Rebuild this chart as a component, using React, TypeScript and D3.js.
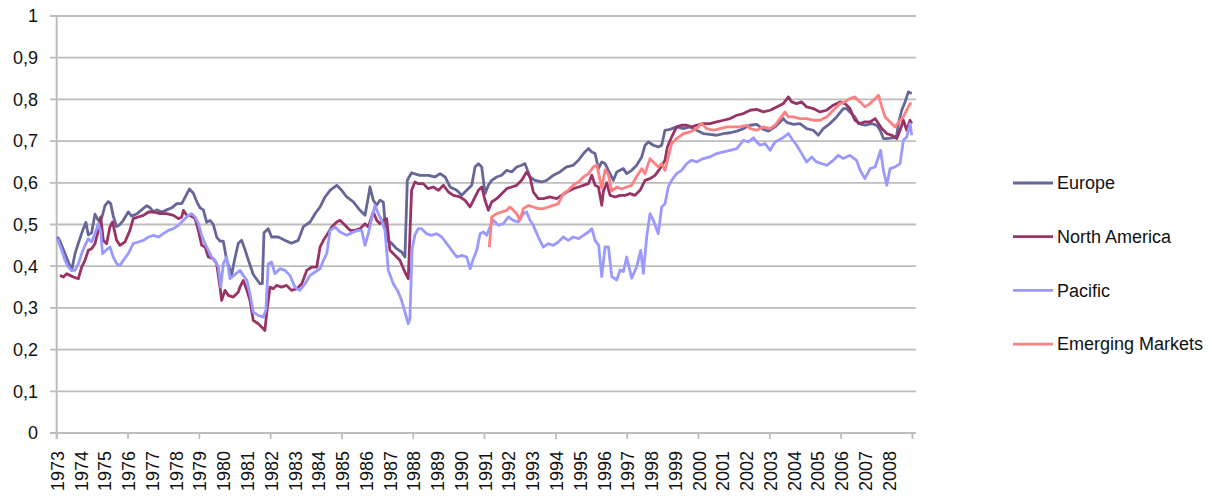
import React from 'react'
import * as d3 from 'd3'

// correlation values, [year, value]
const europe: [number, number][] = [
  [1973.03, .47], [1973.14, .46], [1973.35, .43], [1973.49, .41], [1973.63, .39], [1973.77, .43], [1973.91, .455],
  [1974.12, .49], [1974.23, .505], [1974.33, .475], [1974.47, .48], [1974.61, .525], [1974.75, .51], [1974.89, .515],
  [1975.03, .545], [1975.17, .555], [1975.27, .55], [1975.38, .52], [1975.52, .495], [1975.66, .5], [1975.8, .51],
  [1976.01, .53], [1976.15, .52], [1976.36, .525], [1976.57, .535], [1976.78, .545], [1976.93, .54], [1977.07, .53],
  [1977.21, .535], [1977.42, .53], [1977.63, .535], [1977.84, .54], [1978.05, .55], [1978.26, .55], [1978.4, .565],
  [1978.58, .585], [1978.75, .575], [1978.89, .555], [1979.03, .54], [1979.17, .535], [1979.31, .505], [1979.45, .51],
  [1979.59, .5], [1979.73, .47], [1979.87, .46], [1980.01, .46], [1980.15, .415], [1980.36, .38], [1980.5, .42],
  [1980.64, .455], [1980.78, .462], [1980.92, .44], [1981.06, .415], [1981.27, .38], [1981.55, .358], [1981.65, .358],
  [1981.72, .48], [1981.9, .49], [1982.04, .47], [1982.32, .47], [1982.6, .462], [1982.88, .455], [1983.16, .462],
  [1983.38, .495], [1983.66, .506], [1983.87, .526], [1984.08, .542], [1984.29, .566], [1984.5, .582], [1984.78, .594],
  [1984.99, .582], [1985.2, .566], [1985.48, .554], [1985.76, .534], [1985.97, .522], [1986.11, .566], [1986.18, .59],
  [1986.32, .558], [1986.46, .546], [1986.6, .558], [1986.74, .554], [1986.88, .462], [1987.09, .455], [1987.3, .442],
  [1987.51, .434], [1987.65, .422], [1987.75, .606], [1987.93, .624], [1988.28, .618], [1988.63, .618], [1988.91, .614],
  [1989.13, .622], [1989.34, .614], [1989.55, .59], [1989.83, .582], [1990.04, .57], [1990.25, .582], [1990.46, .594],
  [1990.6, .638], [1990.74, .646], [1990.88, .638], [1991.02, .574], [1991.16, .594], [1991.3, .606], [1991.51, .614],
  [1991.72, .618], [1991.93, .63], [1992.14, .626], [1992.35, .638], [1992.56, .642], [1992.7, .646], [1992.91, .614],
  [1993.12, .606], [1993.4, .602], [1993.61, .606], [1993.89, .618], [1994.17, .626], [1994.45, .638], [1994.73, .642],
  [1994.95, .654], [1995.16, .67], [1995.37, .682], [1995.51, .674], [1995.65, .67], [1995.79, .634], [1995.93, .65],
  [1996.07, .646], [1996.21, .63], [1996.42, .606], [1996.56, .626], [1996.84, .634], [1996.98, .622], [1997.19, .63],
  [1997.4, .642], [1997.61, .662], [1997.75, .69], [1997.89, .698], [1998.1, .69], [1998.31, .686], [1998.45, .69],
  [1998.59, .726], [1998.8, .728], [1999.08, .734], [1999.36, .73], [1999.64, .734], [1999.92, .726], [2000.2, .718],
  [2000.48, .716], [2000.76, .714], [2001.05, .718], [2001.33, .72], [2001.61, .724], [2001.9, .73], [2002.17, .738],
  [2002.45, .74], [2002.73, .728], [2002.94, .724], [2003.22, .734], [2003.43, .746], [2003.57, .754], [2003.71, .745],
  [2003.99, .74], [2004.27, .742], [2004.55, .73], [2004.83, .726], [2005.04, .714], [2005.25, .73], [2005.53, .742],
  [2005.81, .758], [2006.09, .778], [2006.23, .778], [2006.37, .77], [2006.58, .758], [2006.73, .742], [2007.01, .738],
  [2007.29, .742], [2007.5, .738], [2007.64, .726], [2007.78, .706], [2007.92, .706], [2008.2, .708], [2008.34, .714],
  [2008.41, .742], [2008.55, .774], [2008.69, .794], [2008.83, .818], [2008.97, .814],
]

const northAmerica: [number, number][] = [
  [1973.14, .378], [1973.28, .374], [1973.42, .382], [1973.56, .378], [1973.7, .374], [1973.91, .37], [1974.05, .398],
  [1974.19, .414], [1974.33, .438], [1974.47, .442], [1974.61, .454], [1974.75, .486], [1974.85, .518], [1974.96, .462],
  [1975.1, .454], [1975.24, .494], [1975.35, .506], [1975.52, .462], [1975.66, .45], [1975.87, .458], [1976.08, .486],
  [1976.22, .514], [1976.43, .518], [1976.65, .522], [1976.86, .53], [1977.07, .53], [1977.35, .526], [1977.63, .526],
  [1977.91, .522], [1978.12, .514], [1978.26, .518], [1978.33, .534], [1978.47, .522], [1978.61, .522], [1978.82, .514],
  [1978.96, .486], [1979.1, .45], [1979.24, .446], [1979.38, .422], [1979.59, .418], [1979.73, .406], [1979.87, .35],
  [1979.94, .318], [1980.08, .342], [1980.22, .33], [1980.43, .326], [1980.64, .338], [1980.71, .35], [1980.85, .366],
  [1981.0, .342], [1981.13, .318], [1981.27, .27], [1981.48, .262], [1981.62, .254], [1981.76, .246], [1981.83, .286],
  [1981.97, .35], [1982.11, .346], [1982.25, .354], [1982.46, .35], [1982.67, .354], [1982.88, .342], [1983.1, .346],
  [1983.31, .358], [1983.52, .39], [1983.73, .398], [1983.94, .398], [1984.08, .446], [1984.22, .462], [1984.36, .474],
  [1984.57, .494], [1984.78, .506], [1984.92, .51], [1985.13, .498], [1985.34, .486], [1985.55, .486], [1985.76, .49],
  [1985.97, .502], [1986.11, .494], [1986.32, .53], [1986.46, .51], [1986.6, .502], [1986.74, .51], [1986.88, .514],
  [1987.02, .438], [1987.23, .426], [1987.44, .414], [1987.65, .386], [1987.79, .37], [1987.93, .582], [1988.07, .602],
  [1988.21, .598], [1988.42, .598], [1988.63, .586], [1988.84, .59], [1989.06, .582], [1989.27, .594], [1989.48, .578],
  [1989.69, .57], [1989.97, .566], [1990.18, .558], [1990.39, .542], [1990.53, .558], [1990.74, .582], [1990.88, .59],
  [1991.02, .558], [1991.16, .534], [1991.3, .554], [1991.51, .562], [1991.72, .574], [1991.93, .586], [1992.14, .59],
  [1992.35, .594], [1992.56, .606], [1992.77, .626], [1992.91, .614], [1993.05, .578], [1993.26, .562], [1993.47, .562],
  [1993.75, .566], [1994.03, .562], [1994.24, .57], [1994.45, .578], [1994.73, .586], [1994.95, .59], [1995.16, .594],
  [1995.37, .598], [1995.51, .618], [1995.65, .594], [1995.79, .59], [1995.93, .546], [1996.0, .58], [1996.14, .6],
  [1996.28, .57], [1996.49, .566], [1996.7, .57], [1996.91, .57], [1997.12, .574], [1997.33, .57], [1997.54, .582],
  [1997.75, .606], [1997.96, .61], [1998.17, .618], [1998.38, .634], [1998.59, .654], [1998.69, .686], [1998.87, .71],
  [1999.08, .734], [1999.29, .738], [1999.5, .738], [1999.71, .734], [1999.92, .738], [2000.2, .742], [2000.48, .742],
  [2000.76, .746], [2001.05, .75], [2001.33, .754], [2001.61, .762], [2001.89, .766], [2002.17, .774], [2002.45, .776],
  [2002.73, .77], [2003.01, .774], [2003.29, .782], [2003.57, .79], [2003.78, .806], [2003.92, .794], [2004.13, .79],
  [2004.34, .794], [2004.55, .782], [2004.83, .778], [2005.11, .77], [2005.39, .774], [2005.67, .786], [2005.95, .794],
  [2006.16, .79], [2006.37, .778], [2006.58, .75], [2006.8, .742], [2007.0, .746], [2007.22, .746], [2007.43, .754],
  [2007.57, .742], [2007.71, .73], [2007.92, .718], [2008.13, .714], [2008.34, .706], [2008.48, .726], [2008.62, .75],
  [2008.76, .726], [2008.9, .75], [2008.97, .742],
]

const pacific: [number, number][] = [
  [1973.03, .466], [1973.21, .438], [1973.35, .414], [1973.49, .398], [1973.63, .39], [1973.77, .39], [1973.91, .406],
  [1974.05, .43], [1974.19, .45], [1974.33, .466], [1974.47, .458], [1974.61, .478], [1974.75, .502], [1974.85, .482],
  [1974.93, .43], [1975.07, .438], [1975.24, .446], [1975.38, .422], [1975.52, .406], [1975.66, .402], [1975.8, .414],
  [1976.01, .43], [1976.22, .454], [1976.43, .458], [1976.65, .462], [1976.86, .47], [1977.07, .474], [1977.28, .47],
  [1977.49, .478], [1977.7, .486], [1977.91, .49], [1978.12, .498], [1978.33, .51], [1978.54, .522], [1978.68, .526],
  [1978.82, .518], [1978.96, .502], [1979.1, .474], [1979.24, .454], [1979.38, .438], [1979.52, .422], [1979.66, .414],
  [1979.8, .398], [1979.9, .35], [1980.01, .406], [1980.15, .422], [1980.29, .37], [1980.5, .38], [1980.71, .39],
  [1980.85, .378], [1981.0, .366], [1981.13, .334], [1981.27, .29], [1981.48, .282], [1981.69, .278], [1981.8, .294],
  [1981.9, .406], [1982.04, .41], [1982.18, .382], [1982.39, .394], [1982.6, .39], [1982.81, .378], [1983.02, .35],
  [1983.23, .342], [1983.45, .358], [1983.66, .378], [1983.87, .386], [1984.08, .394], [1984.22, .414], [1984.36, .43],
  [1984.5, .486], [1984.71, .494], [1984.92, .482], [1985.2, .474], [1985.48, .482], [1985.69, .486], [1985.83, .486],
  [1985.97, .45], [1986.11, .478], [1986.25, .514], [1986.39, .546], [1986.53, .526], [1986.67, .51], [1986.81, .486],
  [1986.95, .39], [1987.16, .358], [1987.37, .338], [1987.51, .318], [1987.65, .29], [1987.79, .262], [1987.86, .275],
  [1987.95, .44], [1988.07, .475], [1988.21, .49], [1988.35, .49], [1988.56, .478], [1988.77, .474], [1988.98, .478],
  [1989.2, .47], [1989.41, .454], [1989.62, .438], [1989.83, .422], [1990.04, .426], [1990.25, .422], [1990.39, .394],
  [1990.53, .418], [1990.67, .438], [1990.81, .478], [1990.95, .482], [1991.09, .474], [1991.23, .494], [1991.37, .51],
  [1991.58, .498], [1991.79, .502], [1992.0, .518], [1992.21, .51], [1992.42, .506], [1992.63, .526], [1992.77, .53],
  [1992.91, .51], [1993.05, .498], [1993.26, .47], [1993.47, .446], [1993.68, .454], [1993.89, .45], [1994.1, .458],
  [1994.31, .47], [1994.52, .462], [1994.73, .47], [1994.95, .466], [1995.16, .474], [1995.37, .482], [1995.51, .49],
  [1995.65, .462], [1995.8, .45], [1995.93, .375], [1996.07, .446], [1996.21, .446], [1996.35, .375], [1996.56, .367],
  [1996.7, .391], [1996.84, .387], [1996.98, .422], [1997.19, .371], [1997.4, .399], [1997.57, .438], [1997.68, .383],
  [1997.82, .47], [1997.96, .526], [1998.1, .51], [1998.31, .478], [1998.45, .542], [1998.59, .55], [1998.73, .59],
  [1998.87, .606], [1999.08, .622], [1999.29, .63], [1999.5, .646], [1999.71, .654], [1999.92, .65], [2000.2, .658],
  [2000.48, .662], [2000.76, .67], [2001.05, .674], [2001.33, .678], [2001.61, .682], [2001.89, .702], [2002.1, .698],
  [2002.31, .708], [2002.45, .698], [2002.59, .69], [2002.8, .694], [2003.01, .678], [2003.22, .698], [2003.5, .706],
  [2003.78, .718], [2003.92, .706], [2004.13, .69], [2004.34, .67], [2004.55, .65], [2004.76, .662], [2004.97, .65],
  [2005.18, .646], [2005.39, .642], [2005.67, .654], [2005.88, .666], [2006.09, .658], [2006.37, .666], [2006.65, .654],
  [2006.8, .63], [2007.0, .61], [2007.22, .634], [2007.43, .638], [2007.57, .662], [2007.66, .678], [2007.78, .63],
  [2007.92, .594], [2008.06, .634], [2008.27, .638], [2008.48, .646], [2008.62, .702], [2008.76, .71], [2008.9, .742],
  [2008.97, .714],
]

const emerging: [number, number][] = [
  [1991.2, .446], [1991.3, .518], [1991.51, .526], [1991.72, .53], [1991.93, .534], [1992.07, .542], [1992.21, .534],
  [1992.35, .526], [1992.49, .51], [1992.63, .538], [1992.84, .546], [1993.05, .542], [1993.26, .538], [1993.47, .538],
  [1993.68, .542], [1993.89, .546], [1994.1, .55], [1994.31, .574], [1994.52, .582], [1994.73, .594], [1994.95, .602],
  [1995.16, .614], [1995.37, .622], [1995.58, .638], [1995.72, .643], [1995.93, .587], [1996.07, .631], [1996.21, .62],
  [1996.35, .58], [1996.56, .59], [1996.77, .585], [1996.98, .59], [1997.19, .594], [1997.4, .615], [1997.61, .634],
  [1997.75, .622], [1997.96, .658], [1998.1, .65], [1998.31, .638], [1998.45, .646], [1998.59, .63], [1998.73, .662],
  [1998.87, .694], [1999.08, .706], [1999.36, .718], [1999.64, .722], [1999.92, .73], [2000.13, .742], [2000.34, .73],
  [2000.63, .726], [2000.91, .73], [2001.19, .734], [2001.47, .734], [2001.75, .734], [2002.03, .738], [2002.17, .73],
  [2002.45, .726], [2002.73, .734], [2003.01, .73], [2003.22, .738], [2003.43, .754], [2003.64, .77], [2003.78, .758],
  [2003.99, .758], [2004.27, .754], [2004.55, .754], [2004.83, .75], [2005.11, .75], [2005.39, .758], [2005.67, .774],
  [2005.95, .79], [2006.16, .794], [2006.37, .802], [2006.58, .806], [2006.8, .794], [2007.0, .782], [2007.22, .79],
  [2007.43, .802], [2007.57, .81], [2007.71, .782], [2007.85, .758], [2008.06, .746], [2008.27, .734], [2008.48, .75],
  [2008.62, .758], [2008.76, .774], [2008.9, .79], [2008.97, .79],
]

const seriesNames = ['Europe', 'North America', 'Pacific', 'Emerging Markets']
const seriesColors = ['#666699', '#993366', '#9999ff', '#ff8080']
const seriesData = [europe, northAmerica, pacific, emerging]

const yTicks = [0, 0.1, 0.2, 0.3, 0.4, 0.5, 0.6, 0.7, 0.8, 0.9, 1]
const yearLabels = d3.range(1973, 2009)
const yearTicks = d3.range(1973, 2010, 3)

const W = 1212
const H = 498
const font = 'Liberation Sans, Arial, sans-serif'

export default function App() {
  const x = d3.scaleLinear().domain([1973, 2009.15]).range([56.7, 916])
  const y = d3.scaleLinear().domain([0, 1]).range([433, 16])
  const line = d3.line<[number, number]>()
    .x(d => x(d[0]))
    .y(d => y(d[1]))

  // decimal comma like the original
  const fmt = (v: number) => (v === 0 || v === 1 ? String(v) : d3.format('.1f')(v).replace('.', ','))

  return (
    <svg width={W} height={H} style={{ position: 'absolute', left: 0, top: 0, background: '#fff' }}
      fontFamily={font}>
      {/* grid + y axis */}
      {yTicks.map(t => (
        <g key={t}>
          <line x1={50} x2={916} y1={y(t)} y2={y(t)} stroke="#bdbdbd" strokeWidth={1.8} />
          <text x={38} y={y(t)} dy="0.35em" textAnchor="end" fontSize={18} fill="#111">{fmt(t)}</text>
        </g>
      ))}
      <line x1={56.7} x2={56.7} y1={y(1)} y2={y(0) + 6} stroke="#bdbdbd" strokeWidth={2} />

      {/* x axis */}
      {yearTicks.map(t => (
        <line key={t} x1={x(t)} x2={x(t)} y1={y(0)} y2={y(0) + 6} stroke="#bdbdbd" strokeWidth={1.8} />
      ))}
      {yearLabels.map(yr => (
        <text key={yr} transform={`translate(${x(yr) + 0.8},451) rotate(-90)`} dy="0.35em" textAnchor="end"
          fontSize={18} fill="#111">{yr}</text>
      ))}

      {/* series */}
      {seriesData.map((d, i) => (
        <path key={seriesNames[i]} d={line(d) ?? ''} fill="none" stroke={seriesColors[i]}
          strokeWidth={2.8} strokeLinejoin="round" />
      ))}

      {/* legend */}
      {seriesNames.map((n, i) => {
        const ly = 183 + i * 53.7
        return (
          <g key={n}>
            <line x1={1013} x2={1053} y1={ly} y2={ly} stroke={seriesColors[i]} strokeWidth={2.8} />
            <text x={1057} y={ly} dy="0.35em" fontSize={18} fill="#111">{n}</text>
          </g>
        )
      })}
    </svg>
  )
}
